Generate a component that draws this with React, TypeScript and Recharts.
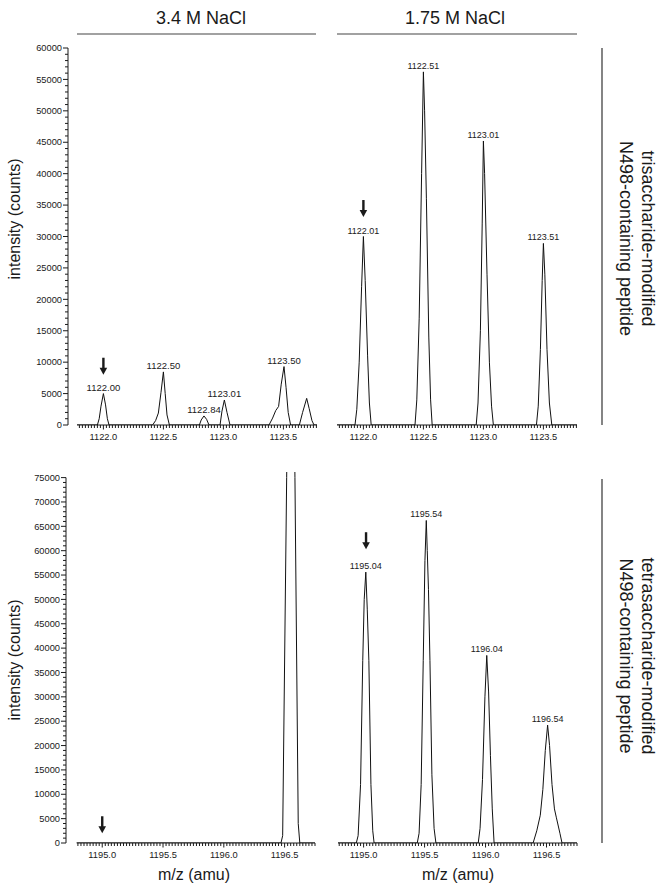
import React from "react";
import { LineChart, Line, XAxis, YAxis, ReferenceLine, ReferenceDot } from "recharts";

const FONT = '"Liberation Sans", Arial, Helvetica, sans-serif';
const INK = "#1a1a1a";

type Pt = [number, number];
type PeakLabel = { mz: number; i: number; text: string };
type Arrow = { mz: number; i: number };

// profile spectra, [m/z, intensity]
const tri34: Pt[] = [
  [1121.78, 0], [1121.95, 0], [1121.965, 1000], [1121.98, 3000], [1122.0, 5000], [1122.018, 3200], [1122.033, 1000], [1122.047, 0],
  [1122.41, 0], [1122.435, 700], [1122.458, 1900], [1122.48, 5200], [1122.5, 8450], [1122.515, 5000], [1122.53, 1600], [1122.55, 0],
  [1122.8, 0], [1122.815, 800], [1122.838, 1440], [1122.86, 900], [1122.88, 0],
  [1122.972, 0], [1122.988, 2200], [1123.008, 3980], [1123.03, 2000], [1123.055, 0],
  [1123.38, 0], [1123.41, 1100], [1123.436, 2300], [1123.46, 2950], [1123.482, 6500], [1123.505, 9300], [1123.522, 6000], [1123.54, 2000], [1123.56, 0],
  [1123.633, 0], [1123.66, 2000], [1123.694, 4240], [1123.715, 2600], [1123.738, 700], [1123.755, 0], [1123.78, 0],
];

const tri175: Pt[] = [
  [1121.78, 0], [1121.93, 0], [1121.945, 2500], [1121.965, 10000], [1121.985, 22000], [1122.0, 30000], [1122.015, 23000], [1122.035, 11000], [1122.05, 3500], [1122.065, 0],
  [1122.43, 0], [1122.445, 4000], [1122.465, 17000], [1122.485, 40000], [1122.5, 56200], [1122.51, 50000], [1122.525, 36000], [1122.545, 14000], [1122.56, 4000], [1122.573, 0],
  [1122.94, 0], [1122.955, 3500], [1122.975, 15000], [1122.99, 32000], [1123.0, 45200], [1123.01, 40000], [1123.03, 24000], [1123.05, 10000], [1123.068, 3000], [1123.083, 0],
  [1123.442, 0], [1123.457, 3000], [1123.475, 12000], [1123.49, 23000], [1123.5, 28900], [1123.512, 24000], [1123.53, 12000], [1123.55, 3500], [1123.57, 0],
  [1123.78, 0],
];

const tetra34: Pt[] = [
  [1194.79, 0], [1196.47, 0], [1196.484, 1500], [1196.517, 75000], [1196.55, 150000], [1196.585, 75000], [1196.612, 4000], [1196.625, 0], [1196.75, 0],
];

const tetra175: Pt[] = [
  [1194.79, 0], [1194.94, 0], [1194.955, 1500], [1194.975, 12000], [1194.993, 37500], [1195.005, 50000], [1195.018, 55600], [1195.03, 48000], [1195.043, 37500], [1195.06, 12000], [1195.075, 2500], [1195.086, 0],
  [1195.44, 0], [1195.455, 2000], [1195.472, 12000], [1195.489, 37500], [1195.503, 58000], [1195.514, 66200], [1195.522, 60000], [1195.532, 52000], [1195.544, 37500], [1195.56, 14000], [1195.578, 3000], [1195.593, 0],
  [1195.94, 0], [1195.955, 3000], [1195.975, 13000], [1195.995, 30000], [1196.01, 38500], [1196.025, 31000], [1196.04, 18000], [1196.055, 7000], [1196.07, 0],
  [1196.39, 0], [1196.42, 2500], [1196.449, 5700], [1196.47, 11000], [1196.49, 19000], [1196.509, 24200], [1196.525, 20000], [1196.545, 12000], [1196.565, 7000], [1196.58, 5300], [1196.61, 2000], [1196.627, 0],
  [1196.75, 0],
];

const tri34Labels: PeakLabel[] = [
  { mz: 1122.0, i: 5000, text: "1122.00" },
  { mz: 1122.5, i: 8450, text: "1122.50" },
  { mz: 1122.838, i: 1440, text: "1122.84" },
  { mz: 1123.008, i: 3980, text: "1123.01" },
  { mz: 1123.505, i: 9300, text: "1123.50" },
];
const tri175Labels: PeakLabel[] = [
  { mz: 1122.0, i: 30000, text: "1122.01" },
  { mz: 1122.5, i: 56200, text: "1122.51" },
  { mz: 1123.0, i: 45200, text: "1123.01" },
  { mz: 1123.5, i: 28900, text: "1123.51" },
];
const tetra175Labels: PeakLabel[] = [
  { mz: 1195.018, i: 55600, text: "1195.04" },
  { mz: 1195.514, i: 66200, text: "1195.54" },
  { mz: 1196.01, i: 38500, text: "1196.04" },
  { mz: 1196.509, i: 24200, text: "1196.54" },
];

const tri34Arrows: Arrow[] = [{ mz: 1122.0, i: 8000 }];
const tri175Arrows: Arrow[] = [{ mz: 1122.0, i: 33100 }];
const tetra34Arrows: Arrow[] = [{ mz: 1195.0, i: 2000 }];
const tetra175Arrows: Arrow[] = [{ mz: 1195.02, i: 60300 }];

const topXMajor = [1122.0, 1122.5, 1123.0, 1123.5];
const bottomXMajor = [1195.0, 1195.5, 1196.0, 1196.5];
const topYMajor = [0, 5000, 10000, 15000, 20000, 25000, 30000, 35000, 40000, 45000, 50000, 55000, 60000];
const bottomYMajor = [0, 5000, 10000, 15000, 20000, 25000, 30000, 35000, 40000, 45000, 50000, 55000, 60000, 65000, 70000, 75000];

const columnTitles = ["3.4 M NaCl", "1.75 M NaCl"];
const rowTitles = [
  ["trisaccharide-modified", "N498-containing peptide"],
  ["tetrasaccharide-modified", "N498-containing peptide"],
];

const stepTicks = (from: number, to: number, step: number) =>
  Array.from({ length: Math.round((to - from) / step) + 1 }, (_, k) => Math.round((from + k * step) * 10000) / 10000);

const near = (list: number[], v: number) => list.some((m) => Math.abs(m - v) < 1e-6);

const XTick = ({ x, y, payload, major }: any) => {
  const isMajor = near(major, payload.value);
  return (
    <g>
      <line x1={x} x2={x} y1={y} y2={y + (isMajor ? 4.5 : 3)} stroke={INK} strokeWidth={1} />
      {isMajor && (
        <text x={x} y={y + 15} textAnchor="middle" fontSize={9.3} fontFamily={FONT} fill={INK}>
          {payload.value.toFixed(1)}
        </text>
      )}
    </g>
  );
};

const YTick = ({ x, y, payload, major }: any) => {
  const isMajor = near(major, payload.value);
  return (
    <g>
      <line x1={x - (isMajor ? 5 : 3)} x2={x} y1={y} y2={y} stroke={INK} strokeWidth={1} />
      {isMajor && (
        <text x={x - 6} y={y + 3.2} textAnchor="end" fontSize={9.3} fontFamily={FONT} fill={INK}>
          {payload.value}
        </text>
      )}
    </g>
  );
};

const labelShape = (text: string, size: number) => (p: any) => (
  <text x={p.cx} y={p.cy - 3} textAnchor="middle" fontSize={size} fontFamily={FONT} fill={INK}>
    {text}
  </text>
);

const arrowShape = (p: any) => (
  <g fill={INK}>
    <rect x={p.cx - 1.2} y={p.cy - 17} width={2.4} height={11} />
    <path d={`M${p.cx - 3.8},${p.cy - 7}L${p.cx + 3.8},${p.cy - 7}L${p.cx},${p.cy}Z`} />
  </g>
);

const Panel = (props: any) => {
  const { left, top, width, height, margin, yAxisWidth, data, labels, arrows, xDomain, xLine, xTicks, xMajor, yMax, yTop, yTicks, yMajor, showY, labelSize } = props;
  const rows = (data as Pt[]).map(([mz, i]) => ({ mz, i }));
  return (
    <div style={{ position: "absolute", left, top }}>
      <LineChart width={width} height={height} data={rows} margin={margin}>
        <XAxis
          dataKey="mz"
          type="number"
          domain={xDomain}
          allowDataOverflow
          ticks={xTicks}
          interval={0}
          tickSize={0}
          tickMargin={0}
          axisLine={false}
          tickLine={false}
          height={30}
          tick={<XTick major={xMajor} />}
        />
        <YAxis
          type="number"
          domain={[0, yMax]}
          allowDataOverflow
          hide={!showY}
          width={yAxisWidth}
          ticks={yTicks}
          interval={0}
          tickSize={0}
          tickMargin={0}
          axisLine={false}
          tickLine={false}
          tick={<YTick major={yMajor} />}
        />
        <ReferenceLine segment={[{ x: xLine[0], y: 0 }, { x: xLine[1], y: 0 }]} stroke={INK} strokeWidth={1} ifOverflow="visible" />
        {showY && (
          <ReferenceLine segment={[{ x: xDomain[0], y: 0 }, { x: xDomain[0], y: yTop }]} stroke={INK} strokeWidth={1} ifOverflow="visible" />
        )}
        <Line dataKey="i" type="linear" stroke="#111" strokeWidth={1} dot={false} isAnimationActive={false} />
        {(labels as PeakLabel[]).map((l) => (
          <ReferenceDot key={l.text} x={l.mz} y={l.i} r={1} ifOverflow="visible" shape={labelShape(l.text, labelSize)} />
        ))}
        {(arrows as Arrow[]).map((a, k) => (
          <ReferenceDot key={"a" + k} x={a.mz} y={a.i} r={1} ifOverflow="visible" shape={arrowShape} />
        ))}
      </LineChart>
    </div>
  );
};

export default function App() {
  const topXTicks = stepTicks(1121.8, 1123.775, 0.025);
  const bottomXTicks = stepTicks(1194.8, 1196.75, 0.025);
  const topYTicks = stepTicks(0, 60000, 1000);
  const bottomYTicks = stepTicks(0, 75000, 1000);

  return (
    <div style={{ position: "absolute", left: 0, top: 0, width: 665, height: 893, background: "#fff", fontFamily: FONT }}>
      <Panel
        left={0} top={40} width={330} height={420}
        margin={{ top: 8, right: 13, bottom: 5, left: 0 }} yAxisWidth={68}
        data={tri34} labels={tri34Labels} arrows={tri34Arrows}
        xDomain={[1121.705, 1123.78]} xLine={[1121.78, 1123.78]} xTicks={topXTicks} xMajor={topXMajor}
        yMax={60000} yTop={60000} yTicks={topYTicks} yMajor={topYMajor} showY labelSize={9.5}
      />
      <Panel
        left={330} top={40} width={260} height={420}
        margin={{ top: 8, right: 13, bottom: 5, left: 7 }} yAxisWidth={0}
        data={tri175} labels={tri175Labels} arrows={tri175Arrows}
        xDomain={[1121.78, 1123.78]} xLine={[1121.78, 1123.78]} xTicks={topXTicks} xMajor={topXMajor}
        yMax={60000} yTop={60000} yTicks={topYTicks} yMajor={topYMajor} showY={false} labelSize={9}
      />
      <Panel
        left={0} top={462} width={330} height={416}
        margin={{ top: 10, right: 15, bottom: 5, left: 0 }} yAxisWidth={66}
        data={tetra34} labels={[]} arrows={tetra34Arrows}
        xDomain={[1194.702, 1196.75]} xLine={[1194.79, 1196.75]} xTicks={bottomXTicks} xMajor={bottomXMajor}
        yMax={76150} yTop={75000} yTicks={bottomYTicks} yMajor={bottomYMajor} showY labelSize={9}
      />
      <Panel
        left={330} top={462} width={262} height={416}
        margin={{ top: 10, right: 15, bottom: 5, left: 8 }} yAxisWidth={0}
        data={tetra175} labels={tetra175Labels} arrows={tetra175Arrows}
        xDomain={[1194.79, 1196.75]} xLine={[1194.79, 1196.75]} xTicks={bottomXTicks} xMajor={bottomXMajor}
        yMax={76150} yTop={75000} yTicks={bottomYTicks} yMajor={bottomYMajor} showY={false} labelSize={9}
      />

      <svg width={665} height={893} style={{ position: "absolute", left: 0, top: 0, pointerEvents: "none" }} fontFamily={FONT} fill={INK}>
        <text x={201} y={23.5} fontSize={18} textAnchor="middle">{columnTitles[0]}</text>
        <line x1={77} x2={316} y1={34} y2={34} stroke="#444" strokeWidth={1.2} />
        <text x={455} y={23.5} fontSize={18} textAnchor="middle">{columnTitles[1]}</text>
        <line x1={337} x2={577} y1={34} y2={34} stroke="#444" strokeWidth={1.2} />

        <text transform="translate(20,219) rotate(-90)" fontSize={16} textAnchor="middle">intensity (counts)</text>
        <text transform="translate(20,660) rotate(-90)" fontSize={16} textAnchor="middle">intensity (counts)</text>
        <text x={194} y={880} fontSize={16} textAnchor="middle">m/z (amu)</text>
        <text x={458} y={880} fontSize={16} textAnchor="middle">m/z (amu)</text>

        <line x1={602} x2={602} y1={48} y2={425} stroke="#333" strokeWidth={1.2} />
        <line x1={602} x2={602} y1={479} y2={843} stroke="#333" strokeWidth={1.2} />
        <text transform="translate(642,238.5) rotate(90)" fontSize={18} textAnchor="middle">{rowTitles[0][0]}</text>
        <text transform="translate(620,238.5) rotate(90)" fontSize={18} textAnchor="middle">{rowTitles[0][1]}</text>
        <text transform="translate(642,656) rotate(90)" fontSize={18} textAnchor="middle">{rowTitles[1][0]}</text>
        <text transform="translate(620,656) rotate(90)" fontSize={18} textAnchor="middle">{rowTitles[1][1]}</text>
      </svg>
    </div>
  );
}
